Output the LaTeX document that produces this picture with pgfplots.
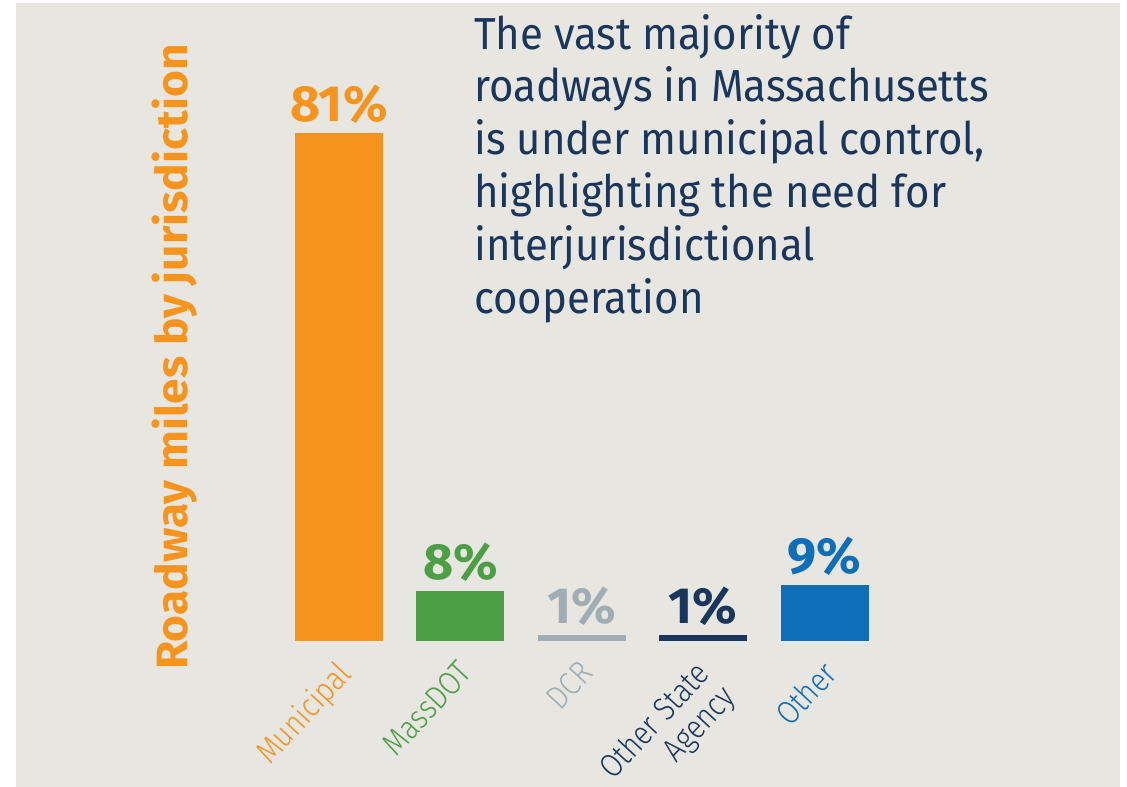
\documentclass[border=0pt]{standalone}
\usepackage{pgfplots}
\pgfplotsset{compat=1.18}
\usepackage{fontspec}
\setmainfont{Fira Sans}
\newfontfamily\titlefont[FakeStretch=0.935]{Fira Sans}
\newfontfamily\boldcond[FakeStretch=1.02]{Fira Sans}
\newfontfamily\ylabfont[FakeStretch=1.05]{Fira Sans}
\newfontfamily\lightcond[FakeStretch=0.86, UprightFont={* Light}]{Fira Sans}
\definecolor{bg}{HTML}{E7E6E0}
\definecolor{morange}{HTML}{F7941D}
\definecolor{mgreen}{HTML}{4C9F45}
\definecolor{mgray}{HTML}{A0ADB4}
\definecolor{mnavy}{HTML}{1B365D}
\definecolor{mblue}{HTML}{0F6EB8}
\tikzset{catlabel/.style={rotate=47, anchor=north east, inner sep=0pt, align=right, font=\lightcond\fontsize{33}{35}\selectfont}}
\begin{document}
\begin{tikzpicture}[x=1bp,y=1bp]
\useasboundingbox (0,0) rectangle (1127,787);
\fill[white] (0,0) rectangle (1127,787);
\fill[bg] (16,0) rectangle (1120,784);
\begin{axis}[
  at={(278.3bp,146bp)}, anchor=south west,
  scale only axis, width=606.9bp, height=564.5bp,
  xmin=-0.5, xmax=4.5, ymin=0, ymax=90,
  hide axis,
  clip=false,
  every node near coord/.append style={font=\boldcond\bfseries\fontsize{51}{53}\selectfont, anchor=base, inner sep=0pt, yshift=11bp},
  nodes near coords={\pgfmathprintnumber[assume math mode=true]{\pgfplotspointmeta}\%},
]
\addplot[ybar, bar width=88bp, fill=morange, draw=none, nodes near coords style={text=morange}] coordinates {(0,81)};
\addplot[ybar, bar width=88bp, fill=mgreen, draw=none, nodes near coords style={text=mgreen}] coordinates {(1,8)};
\addplot[ybar, bar width=88bp, fill=mgray, draw=none, nodes near coords style={text=mgray}] coordinates {(2,1)};
\addplot[ybar, bar width=88bp, fill=mnavy, draw=none, nodes near coords style={text=mnavy}] coordinates {(3,1)};
\addplot[ybar, bar width=88bp, fill=mblue, draw=none, nodes near coords style={text=mblue}] coordinates {(4,9)};
\node[catlabel, text=morange] at (axis cs:-0.03,-2.8) {Municipal};
\node[catlabel, text=mgreen] at (axis cs:0.97,-2.8) {MassDOT};
\node[catlabel, text=mgray] at (axis cs:1.97,-2.8) {DCR};
\node[catlabel, text=mnavy] at (axis cs:2.92,-2.8) {Other State\\Agency};
\node[catlabel, text=mblue] at (axis cs:3.97,-2.8) {Other};
\end{axis}
\node[anchor=north west, inner sep=0pt, align=left, text=mnavy, font=\titlefont\fontsize{45}{53}\selectfont] at (474,773)
  {The vast majority of\\roadways in Massachusetts\\is under municipal control,\\highlighting the need for\\interjurisdictional\\cooperation};
\node[rotate=90, text=morange, inner sep=0pt, font=\ylabfont\bfseries\fontsize{44}{46}\selectfont] at (175,430) {Roadway miles by jurisdiction};
\end{tikzpicture}
\end{document}
